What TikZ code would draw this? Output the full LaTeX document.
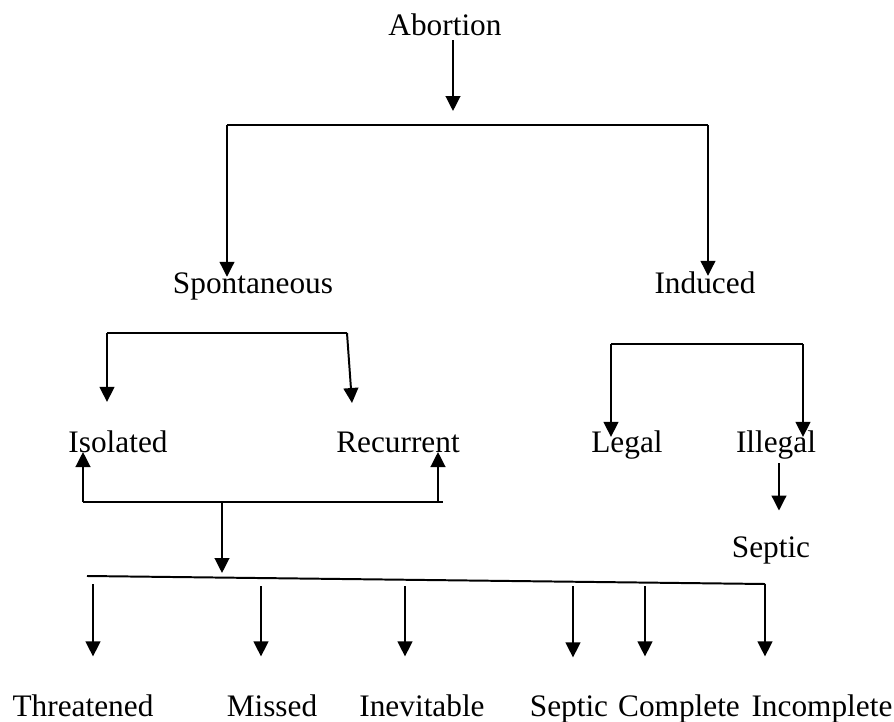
\documentclass[tikz,border=0pt]{standalone}
\usepackage{fontspec}
\setmainfont{Liberation Serif}
\usetikzlibrary{arrows.meta}

\begin{document}
\begin{tikzpicture}[x=0.38pt,y=-0.38pt,line width=0.75pt,
  arr/.style={-{Triangle[length=5.7pt,width=5.6pt]}},
  lbl/.style={inner sep=0pt,anchor=base,font=\fontsize{11.9}{14}\selectfont}]
\useasboundingbox (0,0) rectangle (894,722);
% labels
\node[lbl] (abort) at (445,35) {Abortion};
\node[lbl] (spont) at (253,293) {Spontaneous};
\node[lbl] (induced) at (705,293) {Induced};
\node[lbl] (isol) at (118,452) {Isolated};
\node[lbl] (recur) at (398,452) {Recurrent};
\node[lbl] (legal) at (627,452) {Legal};
\node[lbl] (illegal) at (776,452) {Illegal};
\node[lbl] (septicI) at (771,557) {Septic};
\node[lbl] (threat) at (83,716) {Threatened};
\node[lbl] (missed) at (272,716) {Missed};
\node[lbl] (inevit) at (422,716) {Inevitable};
\node[lbl] (septicS) at (569,716) {Septic};
\node[lbl] (complete) at (679,716) {Complete};
\node[lbl] (incompl) at (822,716) {Incomplete};

% Abortion -> Spontaneous / Induced
\coordinate (a0) at (453,40);
\coordinate (a1) at (227,125);
\coordinate (a2) at (708,125);
\draw[arr] (a0) -- (453,111);
\draw (a1) -- (a2);
\draw[arr,shorten >=-2.1pt] (a1) -- (a1 |- spont.north);
\draw[arr,shorten >=-2.1pt] (a2) -- (a2 |- induced.north);

% Spontaneous -> Isolated / Recurrent
\coordinate (s1) at (107,333);
\coordinate (s2) at (347,333);
\draw (s1) -- (s2);
\draw[arr,shorten >=10.4pt] (s1) -- (s1 |- isol.north);
\draw[arr] (s2) -- (352,403);

% Induced -> Legal / Illegal -> Septic
\coordinate (i1) at (611,344);
\coordinate (i2) at (803,344);
\draw (i1) -- (i2);
\draw[arr,shorten >=-2.9pt] (i1) -- (i1 |- legal.north);
\draw[arr,shorten >=-2.9pt] (i2) -- (i2 |- illegal.north);
\coordinate (i3) at (779,463);
\draw[arr,shorten >=9.4pt] (i3) -- (i3 |- septicI.north);

% Isolated / Recurrent -> types
\coordinate (b1) at (83,502);
\coordinate (b2) at (438,502);
\draw (b1) -- (443,502);
\draw[arr] (b1) -- (b1 |- isol.base);
\draw[arr] (b2) -- (b2 |- recur.base);
\coordinate (b3) at (222,502);
\draw[arr] (b3) -- (222,573);

% the long line and its arrows
\coordinate (l0) at (87,576);
\coordinate (l1) at (765,584);
\draw (l0) -- (l1);
\coordinate (d1) at (93,584);
\coordinate (d2) at (261,586);
\coordinate (d3) at (405,586);
\coordinate (d4) at (573,586);
\coordinate (d5) at (645,586);
\draw[arr,shorten >=14pt] (d1) -- (d1 |- threat.north);
\draw[arr,shorten >=14pt] (d2) -- (d2 |- missed.north);
\draw[arr,shorten >=14pt] (d3) -- (d3 |- inevit.north);
\draw[arr,shorten >=14pt] (d4) -- (d4 |- septicS.north);
\draw[arr,shorten >=14pt] (d5) -- (d5 |- complete.north);
\draw[arr,shorten >=14pt] (l1) -- (l1 |- incompl.north);
\end{tikzpicture}
\end{document}
